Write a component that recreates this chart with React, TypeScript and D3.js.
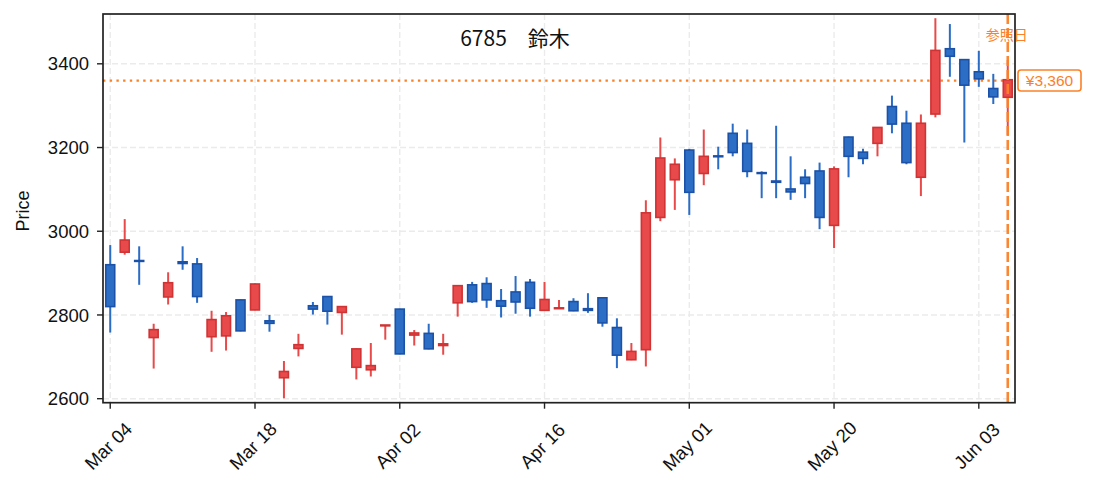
import React, { useEffect } from "react";
import * as d3 from "d3";

const dates = [
  "Mar 04","Mar 05","Mar 06","Mar 07","Mar 08","Mar 11","Mar 12","Mar 13","Mar 14","Mar 15",
  "Mar 18","Mar 19","Mar 21","Mar 22","Mar 25","Mar 26","Mar 27","Mar 28","Mar 29","Apr 01",
  "Apr 02","Apr 03","Apr 04","Apr 05","Apr 08","Apr 09","Apr 10","Apr 11","Apr 12","Apr 15",
  "Apr 16","Apr 17","Apr 18","Apr 19","Apr 22","Apr 23","Apr 24","Apr 25","Apr 26","Apr 30",
  "May 01","May 02","May 07","May 08","May 09","May 10","May 13","May 14","May 15","May 17",
  "May 20","May 21","May 22","May 23","May 24","May 27","May 28","May 29","May 30","May 31",
  "Jun 03","Jun 04","Jun 05",
];
const opens = [
  2920,2950,2930,2746,2843,2927,2922,2748,2750,2836,
  2812,2786,2650,2720,2822,2844,2806,2675,2669,2774,
  2814,2752,2756,2727,2829,2872,2875,2834,2855,2878,
  2811,2815,2832,2815,2841,2770,2693,2717,3033,3123,
  3194,3138,3180,3234,3210,3140,3120,3101,3129,3144,
  3014,3225,3189,3210,3298,3258,3129,3280,3436,3410,
  3381,3341,3320,
];
const highs = [
  2967,3029,2964,2779,2902,2964,2936,2810,2807,2837,
  2875,2800,2690,2755,2831,2845,2821,2720,2733,2776,
  2815,2764,2779,2755,2871,2879,2890,2862,2893,2886,
  2879,2836,2840,2852,2842,2792,2733,3074,3224,3174,
  3197,3243,3202,3257,3243,3143,3252,3179,3148,3164,
  3155,3226,3197,3249,3324,3288,3279,3509,3495,3411,
  3431,3376,3409,
];
const lows = [
  2758,2944,2872,2672,2825,2908,2829,2712,2715,2761,
  2811,2760,2601,2701,2801,2777,2753,2646,2653,2741,
  2706,2727,2718,2705,2796,2829,2817,2794,2803,2796,
  2810,2814,2809,2805,2772,2673,2692,2677,3024,3051,
  3039,3110,3148,3179,3129,3079,3079,3075,3079,3005,
  2960,3129,3160,3179,3234,3160,3084,3272,3369,3212,
  3345,3304,3230,
];
const closes = [
  2820,2979,2928,2765,2877,2923,2844,2789,2798,2762,
  2874,2780,2665,2729,2814,2809,2820,2719,2679,2776,
  2707,2757,2719,2731,2870,2832,2836,2821,2831,2816,
  2837,2817,2810,2811,2781,2704,2713,3044,3175,3160,
  3093,3179,3178,3188,3143,3138,3117,3094,3114,3033,
  3149,3179,3174,3248,3256,3164,3258,3432,3418,3349,
  3364,3321,3362,
];
const xTickDates = ["Mar 04", "Mar 18", "Apr 02", "Apr 16", "May 01", "May 20", "Jun 03"];
const yTicks = [2600, 2800, 3000, 3200, 3400];
const title = "6785　鈴木";
const refDate = "Jun 05";
const refPrice = 3360;
const refLabel = "参照日";
const yLabel = "Price";

const W = 1093;
const H = 491;
const L = 103, R = 1015, T = 14, B = 402.7;

const UP_FILL = "#e8494b";
const UP_STROKE = "#d03334";
const DN_FILL = "#2c6ec6";
const DN_STROKE = "#1b51a6";
const ORANGE = "#fb8128";
const FONT = "'Liberation Sans', Arial, sans-serif";
const CJK = "'Noto Sans CJK JP', sans-serif";

export default function App() {
  useEffect(() => {
    document.body.style.margin = "0";
  }, []);

  const x = d3.scaleLinear().domain([-0.5, dates.length - 0.5]).range([L, R]);
  const y = d3.scaleLinear().domain([2590.4, 3519]).range([B, T]);
  const step = x(1) - x(0);
  const bw = step * 0.62;

  const candles = dates.map((d, i) => ({
    d, i, o: opens[i], h: highs[i], l: lows[i], c: closes[i],
  }));

  const refX = x(dates.indexOf(refDate));
  const refY = y(refPrice);
  const priceText = "¥" + d3.format(",")(refPrice);

  return (
    <svg width={W} height={H} style={{ display: "block", background: "#fff" }}>
      {/* grid */}
      <g stroke="#ebebeb" strokeWidth={1.4} strokeDasharray="6,3">
        {xTickDates.map((d) => (
          <line key={d} x1={x(dates.indexOf(d))} x2={x(dates.indexOf(d))} y1={T} y2={B} />
        ))}
        {yTicks.map((v) => (
          <line key={v} x1={L} x2={R} y1={y(v)} y2={y(v)} />
        ))}
      </g>

      {/* reference price line */}
      <line x1={L} x2={R} y1={refY} y2={refY} stroke={ORANGE} strokeWidth={2.2}
        strokeDasharray="2.4,4.3" />

      {/* candles */}
      {candles.map((k) => {
        const up = k.c >= k.o;
        const cx = x(k.i);
        const top = y(Math.max(k.o, k.c));
        const bot = y(Math.min(k.o, k.c));
        return (
          <g key={k.i}>
            <line x1={cx} x2={cx} y1={y(k.h)} y2={y(k.l)}
              stroke={up ? "#e84a4a" : "#2a6cc6"} strokeWidth={2} />
            <rect x={cx - bw / 2} y={top} width={bw} height={Math.max(bot - top, 0.6)}
              fill={up ? UP_FILL : DN_FILL} stroke={up ? UP_STROKE : DN_STROKE}
              strokeWidth={1.6} />
          </g>
        );
      })}

      {/* reference date line */}
      <line x1={refX} x2={refX} y1={T} y2={B} stroke={ORANGE} strokeWidth={2.6}
        strokeDasharray="10,4" opacity={0.95} />
      <text x={refX - 1} y={40} textAnchor="middle" fontFamily={CJK} fontSize={14}
        fill={ORANGE}>{refLabel}</text>

      {/* spines */}
      <rect x={L} y={T} width={R - L} height={B - T} fill="none" stroke="#222" strokeWidth={1.7} />

      {/* y axis */}
      {yTicks.map((v) => (
        <g key={v}>
          <line x1={L - 6} x2={L} y1={y(v)} y2={y(v)} stroke="#222" strokeWidth={1.4} />
          <text x={L - 14} y={y(v)} dy="0.36em" textAnchor="end" fontFamily={FONT}
            fontSize={18.5} fill="#111">{v}</text>
        </g>
      ))}
      <text transform={`translate(29,211) rotate(-90)`} textAnchor="middle"
        fontFamily={FONT} fontSize={18} fill="#111">{yLabel}</text>

      {/* x axis */}
      {xTickDates.map((d) => {
        const tx = x(dates.indexOf(d));
        return (
          <g key={d}>
            <line x1={tx} x2={tx} y1={B} y2={B + 6} stroke="#222" strokeWidth={1.4} />
            <text transform={`translate(${tx - 2},${446}) rotate(-45)`} textAnchor="middle"
              dy="0.35em" fontFamily={FONT} fontSize={18.5} fill="#111">{d}</text>
          </g>
        );
      })}

      {/* title */}
      <text x={515} y={46} textAnchor="middle" fontFamily={CJK} fontSize={21} fill="#111">
        {title}
      </text>

      {/* price label */}
      <g>
        <rect x={R + 3} y={refY - 10.5} width={63} height={21} rx={3} fill="#fff"
          stroke={ORANGE} strokeWidth={1.6} />
        <text x={R + 34.5} y={refY} dy="0.36em" textAnchor="middle" fontFamily={FONT}
          fontSize={15.5} fill={ORANGE}>{priceText}</text>
      </g>
    </svg>
  );
}
